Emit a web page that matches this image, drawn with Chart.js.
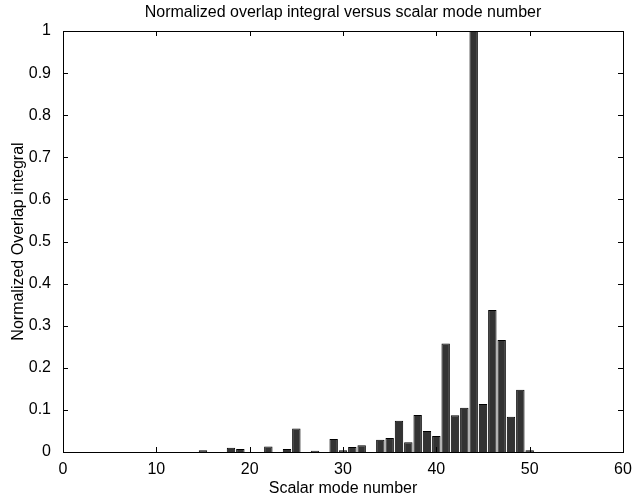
<html>

<head>
    <title>
        Overlap integral
    </title>
    <script src="https://cdn.jsdelivr.net/npm/chart.js"></script>
    <style>
        body {
            margin: 0;
            background: #ffffff;
        }

        .container {
            width: 634px;
            height: 498px;
        }
    </style>
</head>

<body>
    <div class="container"><canvas id="myChart"></canvas></div>

    <script>
        // scalar mode numbers that have a non-zero overlap
        const modes = [15, 18, 19, 22, 24, 25, 27, 29, 30, 31, 32, 34, 35, 36, 37, 38, 39, 40,
            41, 42, 43, 44, 45, 46, 47, 48, 49, 50]
        // normalized overlap integral for each mode above
        const overlap = [0.004, 0.010, 0.007, 0.013, 0.007, 0.056, 0.003, 0.031, 0.004, 0.012, 0.016,
            0.029, 0.033, 0.074, 0.023, 0.088, 0.050, 0.038,
            0.258, 0.087, 0.105, 1.0, 0.114, 0.337, 0.266, 0.084, 0.148, 0.004]
        const xTicks = [0, 10, 20, 30, 40, 50, 60]
        const yTicks = [0, 0.1, 0.2, 0.3, 0.4, 0.5, 0.6, 0.7, 0.8, 0.9, 1]

        const font = { family: "'Liberation Sans', Arial, sans-serif", size: 16 }

        // matlab style box with ticks pointing inward on all four sides
        const boxTicks = {
            id: 'boxTicks',
            afterDraw(chart) {
                const { ctx, chartArea: a, scales: { x, y } } = chart
                const len = 5
                ctx.save()
                ctx.strokeStyle = '#000'
                ctx.lineWidth = 1
                ctx.beginPath()
                xTicks.forEach(v => {
                    const px = Math.round(x.getPixelForValue(v)) + 0.5
                    ctx.moveTo(px, a.bottom); ctx.lineTo(px, a.bottom - len)
                    ctx.moveTo(px, a.top); ctx.lineTo(px, a.top + len)
                })
                yTicks.forEach(v => {
                    const py = Math.round(y.getPixelForValue(v)) + 0.5
                    ctx.moveTo(a.left, py); ctx.lineTo(a.left + len, py)
                    ctx.moveTo(a.right, py); ctx.lineTo(a.right - len, py)
                })
                ctx.stroke()
                ctx.strokeRect(Math.round(a.left) + 0.5, Math.round(a.top) + 0.5,
                    Math.round(a.right - a.left), Math.round(a.bottom - a.top))
                ctx.restore()
            }
        }

        var ctx = document.getElementById("myChart").getContext('2d');

        var myChart = new Chart(ctx, {
            type: 'bar',
            data: {
                datasets: [{
                    data: modes.map((m, i) => ({ x: m, y: overlap[i] })),
                    backgroundColor: '#333333',
                    borderColor: '#000000',
                    borderWidth: 1,
                    barPercentage: 0.95,
                    categoryPercentage: 0.95
                }]
            },
            plugins: [boxTicks],
            options: {
                responsive: true,
                maintainAspectRatio: false,
                animation: false,
                layout: { padding: { left: 0, right: 11, top: 0, bottom: 0 } },
                plugins: {
                    legend: { display: false },
                    tooltip: { enabled: false },
                    title: {
                        display: true,
                        fullSize: false, // center over the plot box, not the canvas
                        text: 'Normalized overlap integral versus scalar mode number',
                        color: '#000',
                        font: { ...font, weight: 'normal', lineHeight: 1.2 },
                        padding: { top: 3, bottom: 8.8 }
                    }
                },
                scales: {
                    x: {
                        type: 'linear',
                        min: 0,
                        max: 60,
                        offset: false,
                        grid: { display: false, offset: false },
                        border: { display: false },
                        afterBuildTicks: s => { s.ticks = xTicks.map(v => ({ value: v })) },
                        afterFit: s => { s.height = 46 },
                        ticks: { color: '#000', font: font, padding: 0, maxRotation: 0 },
                        title: {
                            display: true,
                            text: 'Scalar mode number',
                            color: '#000',
                            font: font,
                            padding: { top: 0, bottom: 0 }
                        }
                    },
                    y: {
                        min: 0,
                        max: 1,
                        grid: { display: false },
                        border: { display: false },
                        afterBuildTicks: s => { s.ticks = yTicks.map(v => ({ value: v })) },
                        afterFit: s => { s.width = 63 },
                        ticks: { color: '#000', font: font, padding: 4, callback: v => String(v) },
                        title: {
                            display: true,
                            text: 'Normalized Overlap integral',
                            color: '#000',
                            font: font,
                            padding: { top: 9, bottom: 2 }
                        }
                    }
                }
            }
        });
    </script>
</body>

</html>
